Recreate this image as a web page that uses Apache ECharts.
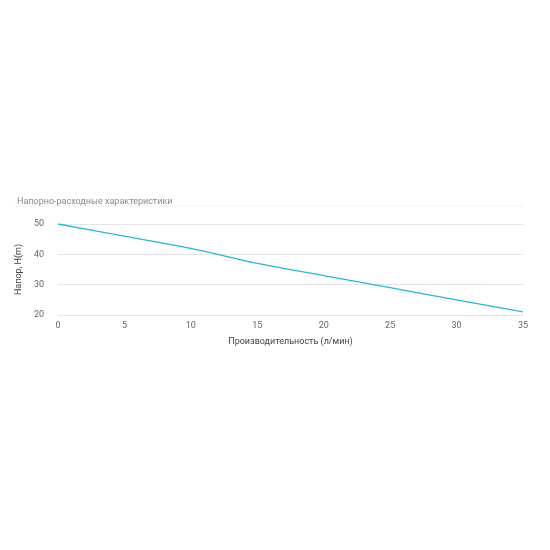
<!DOCTYPE html>
<html>
<head>
<meta charset="utf-8">
<script src="https://cdn.jsdelivr.net/npm/echarts@6/dist/echarts.min.js"></script>
<style>html,body{margin:0;background:#fff}#chart{width:550px;height:550px}</style>
</head>
<body>
<div id="chart"></div>
<script>
var flow = [0, 5, 10, 15, 20, 25, 30, 35];
var head = [50, 46, 42, 37, 33, 29, 25, 21];

var myChart = echarts.init(document.getElementById('chart'));
var data = [];
for (var i = 0; i < flow.length; i++) data.push([flow[i], head[i]]);

option = {
    animation: false,
    title: {
        text: 'Напорно-расходные характеристики',
        left: 12, top: 192,
        textStyle: {fontSize: 9, fontWeight: 'normal', color: '#8a8a8a', fontFamily: 'Roboto'}
    },
    graphic: [{type: 'line', shape: {x1: 14, y1: 206, x2: 524, y2: 206}, style: {stroke: '#f0f0f0', lineWidth: 1}}],
    grid: {left: 58, right: 27, top: 224, bottom: 235},
    xAxis: {
        type: 'value', min: 0, max: 35, interval: 5,
        name: 'Производительность (л/мин)', nameLocation: 'middle', nameGap: 22,
        nameTextStyle: {fontSize: 9, color: '#444', fontFamily: 'Roboto'},
        axisLine: {show: false}, axisTick: {show: false}, splitLine: {show: false},
        axisLabel: {fontSize: 9, color: '#666', fontFamily: 'Roboto', margin: 6}
    },
    yAxis: {
        type: 'value', min: 20, max: 50, interval: 10,
        name: 'Напор, H(m)', nameLocation: 'middle', nameGap: 30,
        nameTextStyle: {fontSize: 9, color: '#444', fontFamily: 'Roboto'},
        axisLine: {show: false}, axisTick: {show: false},
        splitLine: {lineStyle: {color: '#e6e6e6'}},
        axisLabel: {fontSize: 9, color: '#666', fontFamily: 'Roboto', margin: 14}
    },
    series: [{
        type: 'line', data: data, smooth: 0.2, symbol: 'none',
        lineStyle: {color: '#29b6d8', width: 1.3}
    }]
};
myChart.setOption(option);
</script>
</body>
</html>
